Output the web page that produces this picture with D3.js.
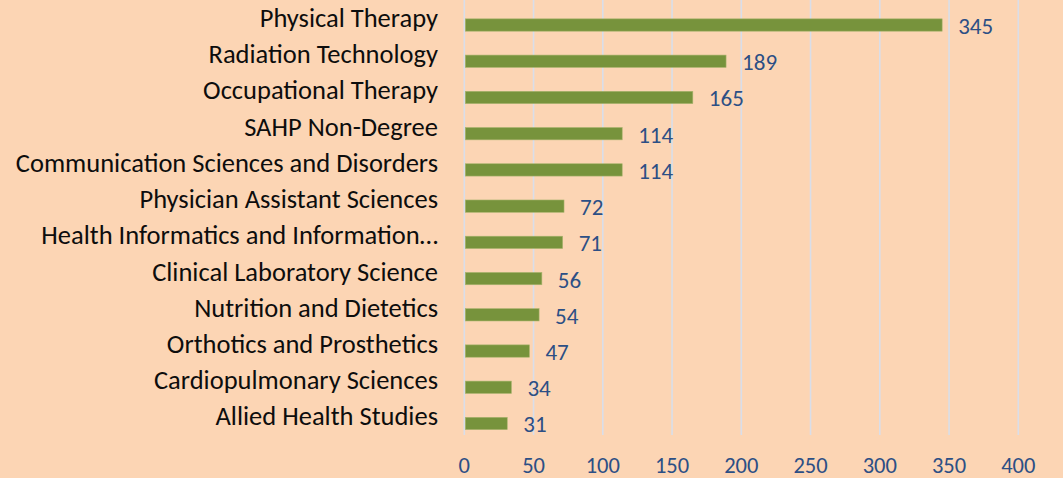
<!DOCTYPE html>
<html>
<head>
<meta charset="utf-8">
<title>SAHP enrollment by program</title>
<script src="https://d3js.org/d3.v7.min.js"></script>
<style>
  html, body { margin: 0; padding: 0; background: #fcd5b4; }
  svg text { font-family: Carlito, Calibri, Lato, sans-serif; }
</style>
</head>
<body>
<script>
// data
var programs = [
  "Physical Therapy",
  "Radiation Technology",
  "Occupational Therapy",
  "SAHP Non-Degree",
  "Communication Sciences and Disorders",
  "Physician Assistant Sciences",
  "Health Informatics and Information\u2026",
  "Clinical Laboratory Science",
  "Nutrition and Dietetics",
  "Orthotics and Prosthetics",
  "Cardiopulmonary Sciences",
  "Allied Health Studies"
];
var students = [345, 189, 165, 114, 114, 72, 71, 56, 54, 47, 34, 31];
var ticks = [0, 50, 100, 150, 200, 250, 300, 350, 400];

var w = 1063, h = 478;
var x0 = 464.3, x1 = 1018.3;   // 0 and 400 on the axis
var gridTop = 0, gridBottom = 435;

var svg = d3.select("body").append("svg")
  .attr("width", w)
  .attr("height", h);

svg.append("rect")
  .attr("width", w)
  .attr("height", h)
  .attr("fill", "#fcd5b4");

var x = d3.scaleLinear().domain([0, 400]).range([x0, x1]);
var y = d3.scaleBand().domain(programs).range([6.9, 441.6]).paddingInner(0.66).paddingOuter(0.33);

// vertical gridlines
svg.append("g")
  .selectAll("line")
  .data(ticks)
  .enter()
  .append("line")
    .attr("x1", function(d) { return x(d); })
    .attr("x2", function(d) { return x(d); })
    .attr("y1", gridTop)
    .attr("y2", gridBottom)
    .attr("stroke", "#d9dee9")
    .attr("stroke-width", 1.6);

var rows = programs.map(function(p, i) { return { name: p, value: students[i] }; });

// bars
svg.append("g")
  .selectAll("rect")
  .data(rows)
  .enter()
  .append("rect")
    .attr("x", x(0) + 1)
    .attr("y", function(d) { return y(d.name); })
    .attr("width", function(d) { return x(d.value) - x(0) - 1; })
    .attr("height", y.bandwidth())
    .attr("fill", "#77933c")
    .attr("stroke", "#a9b46e")
    .attr("stroke-width", 0.6);

// category labels
svg.append("g")
  .selectAll("text")
  .data(rows)
  .enter()
  .append("text")
    .attr("x", 438)
    .attr("y", function(d) { return y(d.name) + y.bandwidth() / 2 + 2; })
    .attr("text-anchor", "end")
    .attr("font-size", 26.5)
    .attr("fill", "#0d0d0d")
    .text(function(d) { return d.name; });

// value labels
svg.append("g")
  .selectAll("text")
  .data(rows)
  .enter()
  .append("text")
    .attr("x", function(d) { return x(d.value) + 16; })
    .attr("y", function(d) { return y(d.name) + y.bandwidth() / 2 + 9; })
    .attr("font-size", 23)
    .attr("fill", "#2c4f85")
    .text(function(d) { return d.value; });

// bottom axis labels
svg.append("g")
  .selectAll("text")
  .data(ticks)
  .enter()
  .append("text")
    .attr("x", function(d) { return x(d); })
    .attr("y", 473)
    .attr("text-anchor", "middle")
    .attr("font-size", 22.5)
    .attr("fill", "#2c4f85")
    .text(function(d) { return d; });
</script>
</body>
</html>
